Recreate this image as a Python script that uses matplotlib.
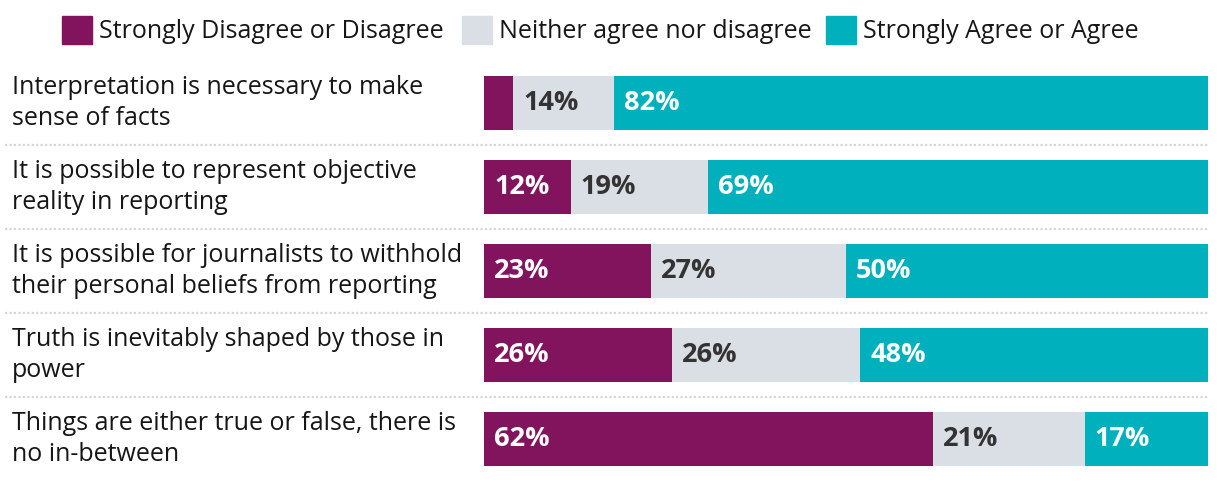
import matplotlib.pyplot as plt
from matplotlib.patches import Rectangle
from matplotlib.lines import Line2D
import matplotlib.transforms as mtransforms

plt.rcParams['font.family'] = ['Open Sans', 'DejaVu Sans']

# data
statements = ['Interpretation is necessary to make\nsense of facts',
              'It is possible to represent objective\nreality in reporting',
              'It is possible for journalists to withhold\ntheir personal beliefs from reporting',
              'Truth is inevitably shaped by those in\npower',
              'Things are either true or false, there is\nno in-between']
disagree = [4, 12, 23, 26, 62]
neither = [14, 19, 27, 26, 21]
agree = [82, 69, 50, 48, 17]
series_names = ['Strongly Disagree or Disagree', 'Neither agree nor disagree', 'Strongly Agree or Agree']

colors = ['#82145E', '#DADEE5', '#00B0BD']
text_cols = ['white', '#333333', 'white']

W, H = 1220, 482
fig = plt.figure(figsize=(W / 100, H / 100), dpi=100)
# bar area in pixels: x 484..1208, rows centred 103..439 with pitch 84
ax = fig.add_axes([484 / W, 1 - 481 / H, 724 / W, 420 / H])
ax.set_xlim(0, 100)
ax.set_ylim(4.5, -0.5)
ax.axis('off')

ypos = list(range(len(statements)))
left = [0] * len(statements)
for vals, col, tcol in zip([disagree, neither, agree], colors, text_cols):
    ax.barh(ypos, vals, left=left, height=54 / 84, color=col, linewidth=0)
    for y, l, v in zip(ypos, left, vals):
        if v >= 5:
            ax.annotate(f'{v}%', (l, y), xytext=(10, 0), textcoords='offset pixels',
                        ha='left', va='center', fontsize=19.5, fontweight='bold', color=tcol)
    left = [a + b for a, b in zip(left, vals)]

trans = mtransforms.blended_transform_factory(fig.transFigure, ax.transData)

# dotted separators
for y in [0.5, 1.5, 2.5, 3.5]:
    fig.lines.append(Line2D([5 / W, 1208 / W], [y, y], transform=trans,
                            color='#d6d6d6', lw=1.6, linestyle=(0, (1, 1))))

# statement labels
for y, s in zip(ypos, statements):
    ax.text(12 / W, y, s, transform=trans, ha='left', va='center',
            fontsize=18, color='#161616', linespacing=1.3)

# legend
leg_x = [62, 462, 826]
for x, name, col in zip(leg_x, series_names, colors):
    fig.patches.append(Rectangle((x / W, 1 - 44 / H), 30 / W, 28 / H,
                                 transform=fig.transFigure, color=col))
    fig.text((x + 37) / W, 1 - 32 / H, name, ha='left', va='center',
             fontsize=18, color='#161616')

fig.savefig('out.png', dpi=100)
